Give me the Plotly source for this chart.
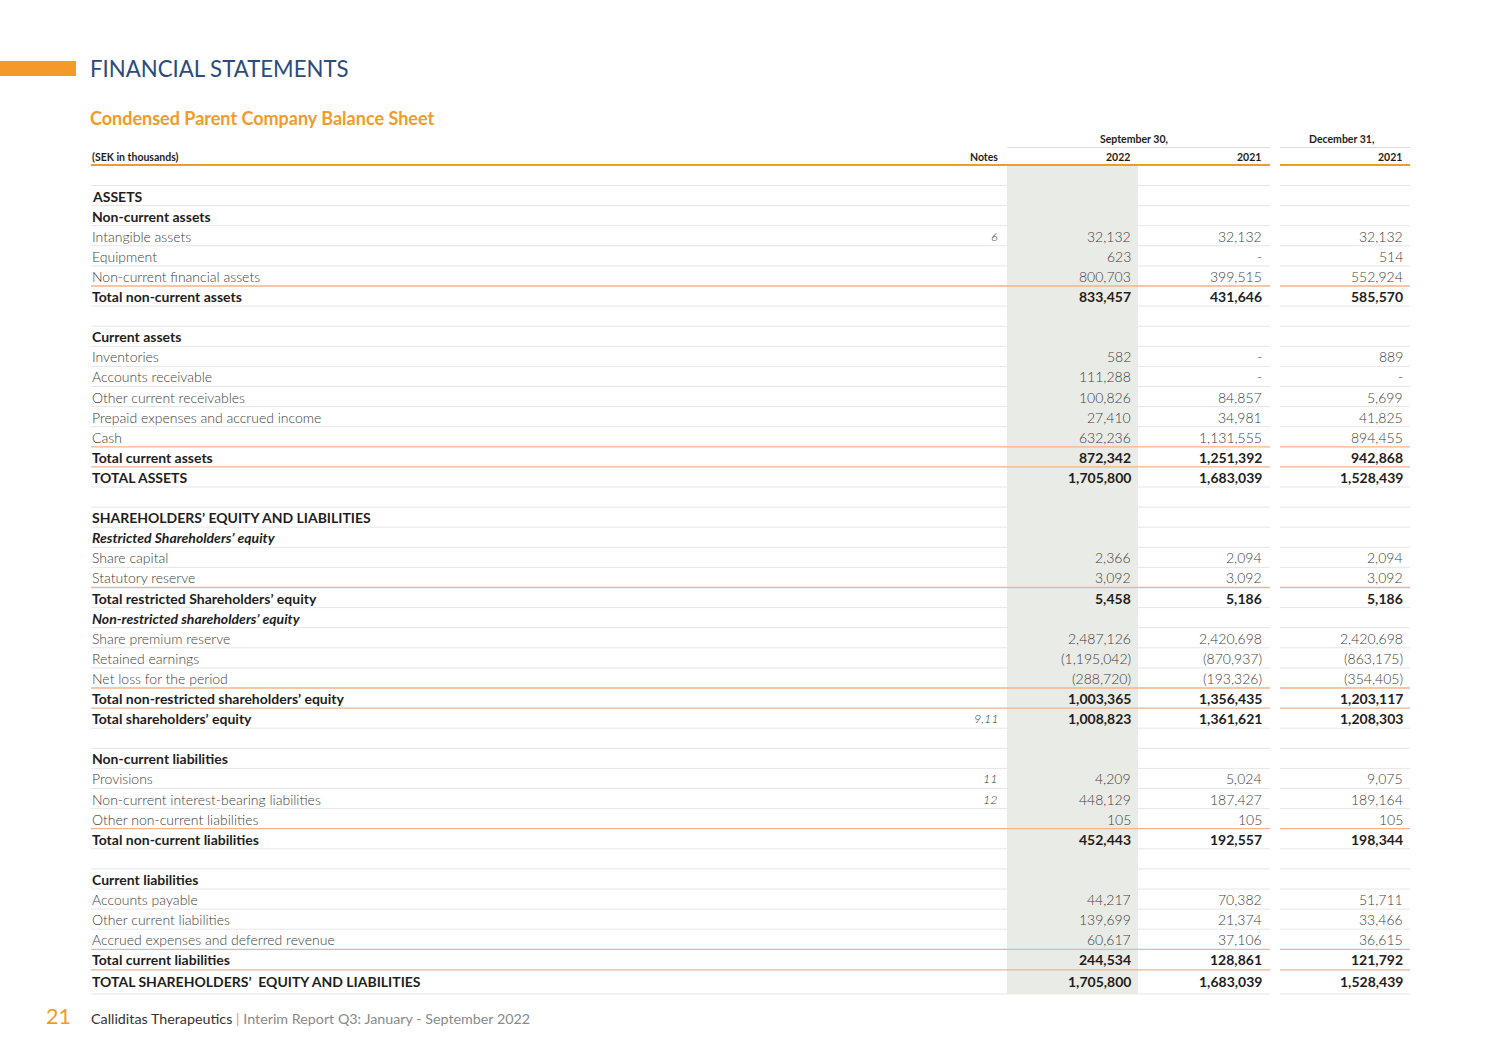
import plotly.graph_objects as go

# ---------------- data ----------------
labels = [
    "ASSETS", "Non-current assets", "Intangible assets", "Equipment", "Non-current financial assets",
    "Total non-current assets", "", "Current assets", "Inventories", "Accounts receivable",
    "Other current receivables", "Prepaid expenses and accrued income", "Cash", "Total current assets",
    "TOTAL ASSETS", "", "SHAREHOLDERS’ EQUITY AND LIABILITIES", "Restricted Shareholders’ equity",
    "Share capital", "Statutory reserve", "Total restricted Shareholders’ equity",
    "Non-restricted shareholders’ equity", "Share premium reserve", "Retained earnings",
    "Net loss for the period", "Total non-restricted shareholders’ equity", "Total shareholders’ equity",
    "", "Non-current liabilities", "Provisions", "Non-current interest-bearing liabilities",
    "Other non-current liabilities", "Total non-current liabilities", "", "Current liabilities",
    "Accounts payable", "Other current liabilities", "Accrued expenses and deferred revenue",
    "Total current liabilities", "TOTAL SHAREHOLDERS’  EQUITY AND LIABILITIES",
]
styles = [
    "head", "sub", "item", "item", "item", "total", "blank", "sub", "item", "item",
    "item", "item", "item", "total", "grand", "blank", "head", "ital",
    "item", "item", "total", "ital", "item", "item",
    "item", "total", "total", "blank", "sub", "item", "item",
    "item", "total", "blank", "sub", "item", "item", "item", "total", "grand",
]
notes = ["", "", "6", "", "", "", "", "", "", "", "", "", "", "", "", "", "", "", "", "", "",
         "", "", "", "", "", "9,11", "", "", "11", "12", "", "", "", "", "", "", "", "", ""]
sep_2022 = [None, None, 32132, 623, 800703, 833457, None, None, 582, 111288, 100826, 27410, 632236,
            872342, 1705800, None, None, None, 2366, 3092, 5458, None, 2487126, -1195042, -288720,
            1003365, 1008823, None, None, 4209, 448129, 105, 452443, None, None, 44217, 139699,
            60617, 244534, 1705800]
sep_2021 = [None, None, 32132, None, 399515, 431646, None, None, None, None, 84857, 34981, 1131555,
            1251392, 1683039, None, None, None, 2094, 3092, 5186, None, 2420698, -870937, -193326,
            1356435, 1361621, None, None, 5024, 187427, 105, 192557, None, None, 70382, 21374,
            37106, 128861, 1683039]
dec_2021 = [None, None, 32132, 514, 552924, 585570, None, None, 889, None, 5699, 41825, 894455,
            942868, 1528439, None, None, None, 2094, 3092, 5186, None, 2420698, -863175, -354405,
            1203117, 1208303, None, None, 9075, 189164, 105, 198344, None, None, 51711, 33466,
            36615, 121792, 1528439]
period_groups = ["September 30,", "December 31,"]
column_years = ["2022", "2021", "2021"]

# ---------------- styling ----------------
FONT = "Lato, 'Open Sans', sans-serif"
DARK = "#1e1e1e"
LIGHT = "#404040"
ORANGE = "#f39a2b"
ORANGE_LINE = "#f2b48e"
GREY_LINE = "#e6e6e6"
SHADE = "#e9ebe6"
NAVY = "#2b4b7c"

X_LEFT = 89.5
X_NOTES = 999
X_COLS = [1131, 1262, 1403]
SEG1 = (91, 1270)
SEG2 = (1280, 1410)
Y0 = 196
STEP = 20.1


def fmt(v):
    if v is None:
        return "-"
    if v < 0:
        return "({:,})".format(-v)
    return "{:,}".format(v)


fig = go.Figure()
shapes = []
ann = []

centers = []
for i in range(len(labels)):
    c = Y0 + STEP * i
    if i == len(labels) - 1:
        c += 2
    centers.append(c)

orange_above = []
for i, s in enumerate(styles):
    y = centers[i] - 10.5 if i < len(labels) - 1 else centers[i] - 12
    is_orange = s in ("total", "grand") and i > 0 and styles[i - 1] in ("item", "total")
    orange_above.append((y, is_orange))
    if not is_orange:
        for a, b in (SEG1, SEG2):
            shapes.append(dict(type="line", x0=a, x1=b, y0=y, y1=y,
                               line=dict(color=GREY_LINE, width=1)))
ybot = centers[-1] + 12
for a, b in (SEG1, SEG2):
    shapes.append(dict(type="line", x0=a, x1=b, y0=ybot, y1=ybot,
                       line=dict(color=GREY_LINE, width=1)))

shapes.append(dict(type="rect", x0=1007, x1=1138, y0=166, y1=ybot,
                   fillcolor=SHADE, line=dict(width=0)))

for y, is_or in orange_above:
    if is_or:
        for a, b in (SEG1, SEG2):
            shapes.append(dict(type="line", x0=a, x1=b, y0=y, y1=y,
                               line=dict(color=ORANGE_LINE, width=1.3)))

shapes.append(dict(type="line", x0=SEG1[0], x1=SEG1[1], y0=165, y1=165,
                   line=dict(color=ORANGE, width=2)))
shapes.append(dict(type="line", x0=SEG2[0], x1=SEG2[1], y0=165, y1=165,
                   line=dict(color=ORANGE, width=2)))
shapes.append(dict(type="line", x0=1007, x1=1270, y0=147.5, y1=147.5,
                   line=dict(color="#dcdcdc", width=1)))
shapes.append(dict(type="line", x0=1280, x1=1410, y0=147.5, y1=147.5,
                   line=dict(color="#dcdcdc", width=1)))

shapes.append(dict(type="rect", x0=0, x1=76, y0=61, y1=76, fillcolor=ORANGE, line=dict(width=0)))


def add(x, y, text, size, color, anchor="left", weight=None):
    f = dict(family=FONT, size=size, color=color)
    if weight:
        f["weight"] = weight
    ann.append(dict(x=x, y=y, text=text, showarrow=False, xanchor=anchor, yanchor="middle",
                    font=f))


add(88, 68, "FINANCIAL STATEMENTS", 22.2, NAVY)
add(88, 118, "<b>Condensed Parent Company Balance Sheet</b>", 18, ORANGE)

add(1134, 139, "<b>September 30,</b>", 10.5, DARK, "center")
add(1341, 139, "<b>December 31,</b>", 10.5, DARK, "center")
add(X_LEFT, 157, "<b>(SEK in thousands)</b>", 10.5, DARK)
add(X_NOTES + 1, 157, "<b>Notes</b>", 10.5, DARK, "right")
for x, t in zip(X_COLS, column_years):
    add(x + 1, 157, "<b>" + t + "</b>", 10.5, DARK, "right")

for i, lab in enumerate(labels):
    s = styles[i]
    y = centers[i]
    if s == "blank":
        continue
    if s == "item":
        add(X_LEFT, y, lab, 14, LIGHT, weight=300)
    elif s == "ital":
        add(X_LEFT, y, "<b><i>" + lab + "</i></b>", 14, DARK)
    else:
        add(X_LEFT, y, "<b>" + lab + "</b>", 14, DARK)
    if notes[i]:
        add(X_NOTES + 1, y, "<i>" + notes[i] + "</i>", 12.5, LIGHT, "right", weight=300)
    if s in ("item", "total", "grand"):
        for x, col in zip(X_COLS, (sep_2022, sep_2021, dec_2021)):
            txt = fmt(col[i])
            if s == "item":
                add(x + 1.5, y, txt, 14, LIGHT, "right", weight=300)
            else:
                add(x + 1.5, y, "<b>" + txt + "</b>", 14, DARK, "right")

add(44, 1016, "21", 21.5, ORANGE)
add(89, 1018, "Calliditas Therapeutics <span style='color:%s'>|</span> "
             "<span style='color:#8a8a8a'>Interim Report Q3: January - September 2022</span>" % ORANGE,
    14.3, "#333333")

fig.update_layout(
    width=1500, height=1061,
    margin=dict(l=0, r=0, t=0, b=0),
    paper_bgcolor="white", plot_bgcolor="white",
    xaxis=dict(range=[0, 1500], visible=False, fixedrange=True),
    yaxis=dict(range=[1061, 0], visible=False, fixedrange=True),
    shapes=shapes, annotations=ann, showlegend=False,
)
fig.write_html("out.html", config={"displayModeBar": False},
               post_script="document.body.style.margin='0';")
